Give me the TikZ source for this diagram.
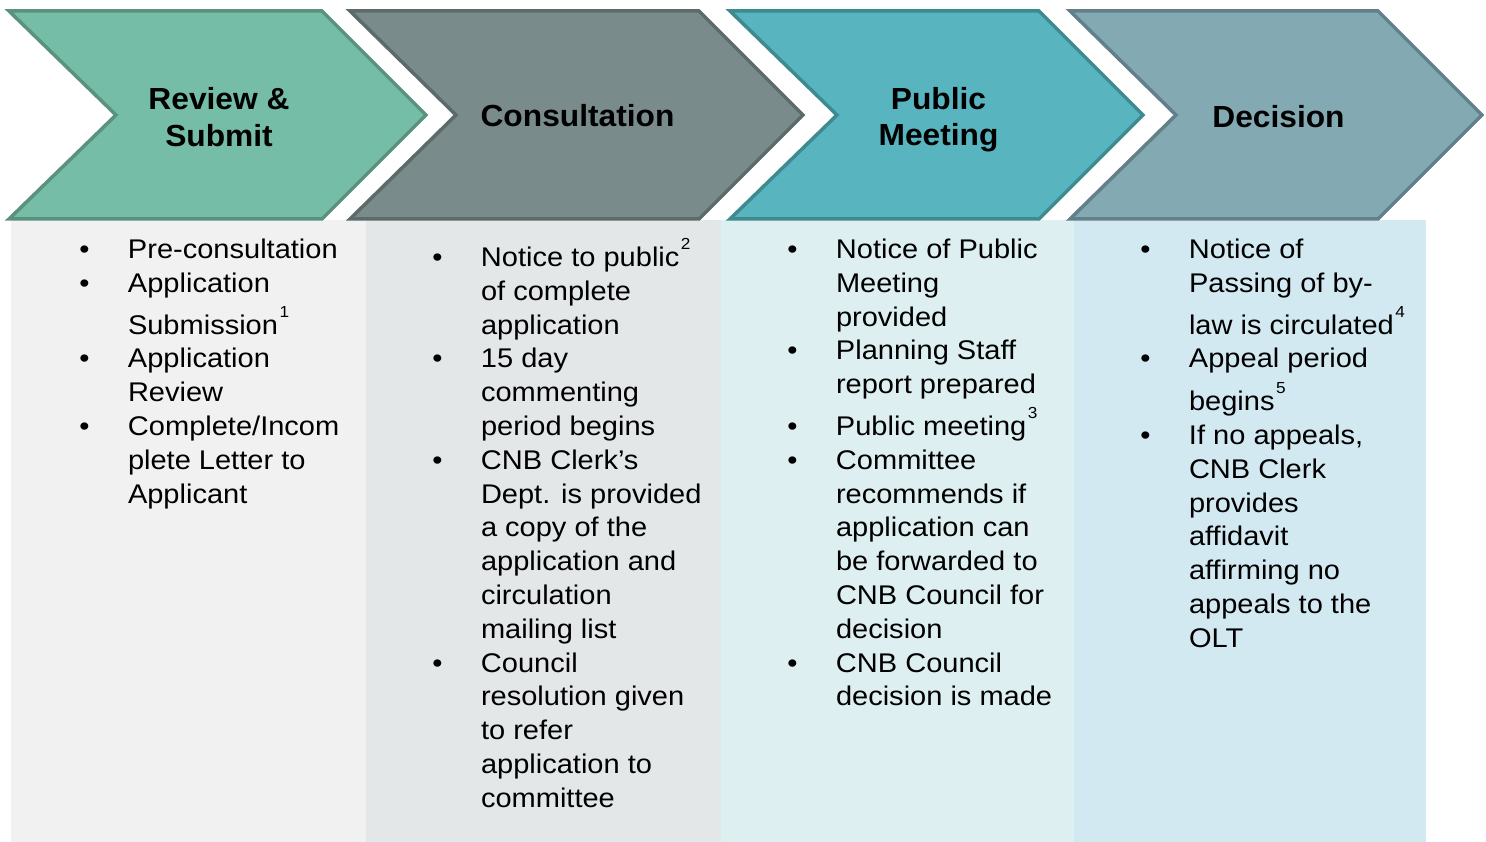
\documentclass[tikz,border=0pt]{standalone}
\usepackage{fontspec}
\setmainfont{Liberation Sans}
\newfontfamily\bodyfont[FakeStretch=1.075]{Liberation Sans}
\newfontfamily\titlefont[FakeStretch=1.04]{Liberation Sans}
\definecolor{cA}{HTML}{75BDA7}\definecolor{sA}{HTML}{5B917F}
\definecolor{cB}{HTML}{7A8B8C}\definecolor{sB}{HTML}{5C6A6A}
\definecolor{cC}{HTML}{58B5C0}\definecolor{sC}{HTML}{3F8A8F}
\definecolor{cD}{HTML}{83AAB3}\definecolor{sD}{HTML}{63808A}
\definecolor{pA}{HTML}{F1F1F1}\definecolor{pB}{HTML}{E3E7E8}
\definecolor{pC}{HTML}{DEEFF2}\definecolor{pD}{HTML}{D3E9F1}
\newcommand\bul{\leavevmode\llap{•\hspace{38.5pt}}}
\newcommand\fnm[1]{\hspace{1.5pt}\raisebox{17pt}{\fontsize{16}{16}\selectfont #1}}
\newcommand\bodybox[1]{\parbox[t]{400pt}{\bodyfont\fontsize{27}{33.8}\selectfont\lineskiplimit=-1000pt\lineskip=0pt #1}}
\newcommand\titlebox[1]{\parbox[t]{300pt}{\centering\titlefont\bfseries\fontsize{30.5}{36.5}\selectfont\lineskiplimit=-1000pt\lineskip=0pt #1}}
\tikzset{
  chev/.style={line width=3.5pt, line join=miter},
  body/.style={anchor=base west, inner sep=0pt, outer sep=0pt},
  ttl/.style={anchor=base, inner sep=0pt, outer sep=0pt},
}
\begin{document}
\begin{tikzpicture}[x=1pt,y=-1pt]
\useasboundingbox (0,0) rectangle (1486,842);
% panels
\fill[pA] (11,220) rectangle (366,842);
\fill[pB] (366,220) rectangle (721,842);
\fill[pC] (721,220) rectangle (1074,842);
\fill[pD] (1074,220) rectangle (1426,842);
% chevrons
\draw[chev, fill=cA, draw=sA] (9,11) -- (322,11) -- (426,115) -- (322,219) -- (9,219) -- (116,115) -- cycle;
\draw[chev, fill=cB, draw=sB] (350,11) -- (699,11) -- (803,115) -- (699,219) -- (350,219) -- (456,115) -- cycle;
\draw[chev, fill=cC, draw=sC] (730,11) -- (1039,11) -- (1143,115) -- (1039,219) -- (730,219) -- (837,115) -- cycle;
\draw[chev, fill=cD, draw=sD] (1070,11) -- (1378,11) -- (1482,115) -- (1378,219) -- (1070,219) -- (1176,115) -- cycle;
% titles
\node[ttl] (t1) at (219,110) {\titlebox{Review \&\\Submit}};
\node[ttl] (t2) at (577.5,126.7) {\titlebox{Consultation}};
\node[ttl] (t3) at (938.5,109.3) {\titlebox{Public\\Meeting}};
\node[ttl] (t4) at (1278.5,128) {\titlebox{Decision}};
% body texts
\node[body] (b1) at (128,258.5) {\bodybox{%
\bul Pre-consultation\\
\bul Application\\[8pt]
Submission\fnm{1}\\
\bul Application\\
Review\\
\bul Complete/Incom\\
plete Letter to\\
Applicant}};
\node[body] (b2) at (481,266.5) {\bodybox{%
\bul Notice to public\fnm{2}\\
of complete\\
application\\
\bul 15 day\\
commenting\\
period begins\\
\bul CNB Clerk’s\\
Dept. is provided\\
a copy of the\\
application and\\
circulation\\
mailing list\\
\bul Council\\
resolution given\\
to refer\\
application to\\
committee}};
\node[body] (b3) at (836,258.5) {\bodybox{%
\bul Notice of Public\\
Meeting\\
provided\\
\bul Planning Staff\\
report prepared\\[8pt]
\bul Public meeting\fnm{3}\\
\bul Committee\\
recommends if\\
application can\\
be forwarded to\\
CNB Council for\\
decision\\
\bul CNB Council\\
decision is made}};
\node[body] (b4) at (1189,258.5) {\bodybox{%
\bul Notice of\\
Passing of by-\\[8pt]
law is circulated\fnm{4}\\
\bul Appeal period\\[9pt]
begins\fnm{5}\\
\bul If no appeals,\\
CNB Clerk\\
provides\\
affidavit\\
affirming no\\
appeals to the\\
OLT}};
\end{tikzpicture}
\end{document}
